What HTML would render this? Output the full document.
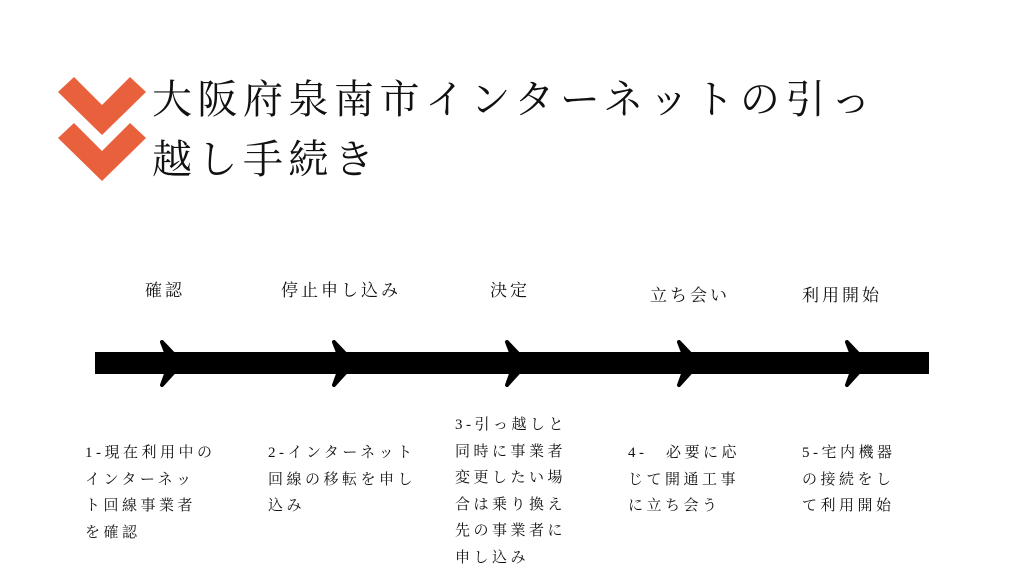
<!DOCTYPE html>
<html><head><meta charset="utf-8"><style>
body{margin:0;width:1024px;height:576px;background:#fff;position:relative;overflow:hidden;font-family:"Liberation Serif","Noto Serif CJK SC",serif;color:#111}
.t{position:absolute;left:152px;font-size:40px;line-height:40px;letter-spacing:5.5px;white-space:nowrap}
.l{position:absolute;top:276px;font-size:17px;letter-spacing:3px;white-space:nowrap}
.d{position:absolute;font-size:15px;line-height:26.5px;letter-spacing:3.5px;white-space:nowrap}
</style></head><body>
<svg width="1024" height="576" style="position:absolute;left:0;top:0">
<polygon points="58,92 74,77 102,105 130,77 146,92 102,135" fill="#e8603c"/>
<polygon points="58,138 74,123 102,151 130,123 146,138 102,181" fill="#e8603c"/>
<rect x="95" y="352" width="834" height="22" fill="#000"/>
<g fill="#000" stroke="#000" stroke-width="4" stroke-linejoin="round">
<polygon points="162,342 182,363 162,385 170,363"/>
<polygon points="334,342 354,363 334,385 342,363"/>
<polygon points="507,342 527,363 507,385 515,363"/>
<polygon points="679,342 699,363 679,385 687,363"/>
<polygon points="847,342 867,363 847,385 855,363"/>
</g>
</svg>
<div class="t" style="top:80px">大阪府泉南市インターネットの引っ</div>
<div class="t" style="top:140px">越し手続き</div>
<div class="l" style="left:145px">確認</div>
<div class="l" style="left:281px">停止申し込み</div>
<div class="l" style="left:490px">決定</div>
<div class="l" style="left:650px;top:281px">立ち会い</div>
<div class="l" style="left:802px;top:281px">利用開始</div>
<div class="d" style="left:85px;top:440px">1-現在利用中の<br>インターネッ<br>ト回線事業者<br>を確認</div>
<div class="d" style="left:268px;top:440px">2-インターネット<br>回線の移転を申し<br>込み</div>
<div class="d" style="left:455px;top:412px">3-引っ越しと<br>同時に事業者<br>変更したい場<br>合は乗り換え<br>先の事業者に<br>申し込み</div>
<div class="d" style="left:628px;top:440px">4-　必要に応<br>じて開通工事<br>に立ち会う</div>
<div class="d" style="left:802px;top:440px">5-宅内機器<br>の接続をし<br>て利用開始</div>
</body></html>
